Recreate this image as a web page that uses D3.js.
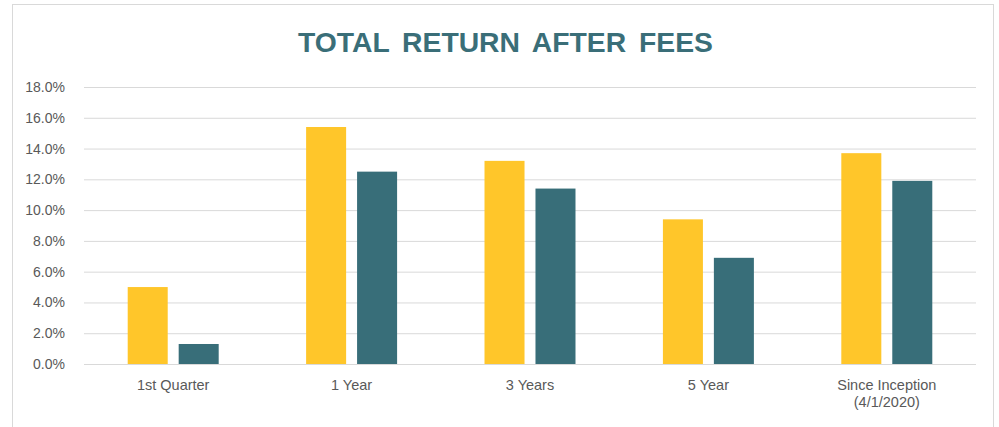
<!DOCTYPE html>
<html>
<head>
<meta charset="utf-8">
<script src="https://cdn.jsdelivr.net/npm/d3@7"></script>
<style>
  body { margin: 0; background: #fff; }
  svg { display: block; }
</style>
</head>
<body>
<div id="chart"></div>
<script>

// data
const categories = ["1st Quarter", "1 Year", "3 Years", "5 Year", "Since Inception\n(4/1/2020)"];
const seriesNames = ["Fund", "Benchmark"];
const fundValues = [0.050, 0.154, 0.132, 0.094, 0.137];
const benchValues = [0.013, 0.125, 0.114, 0.069, 0.119];
const yTicks = [0, 0.02, 0.04, 0.06, 0.08, 0.10, 0.12, 0.14, 0.16, 0.18];

var width = 999;
var height = 427;
var colors = ["#FFC62A", "#386E79"];

var svg = d3.select("#chart").append("svg")
    .attr("width", width)
    .attr("height", height);

// chart frame
svg.append("rect")
    .attr("x", 12.5)
    .attr("y", 4.5)
    .attr("width", 981)
    .attr("height", 440)
    .attr("fill", "#fff")
    .attr("stroke", "#d9d9d9");

svg.append("text")
    .attr("x", 505.5)
    .attr("y", 52)
    .attr("text-anchor", "middle")
    .attr("font-family", "'Liberation Sans Narrow', 'Arial Narrow', 'Liberation Sans', sans-serif")
    .attr("font-weight", "bold")
    .attr("font-size", 28)
    .attr("word-spacing", 5)
    .attr("textLength", 415)
    .attr("lengthAdjust", "spacingAndGlyphs")
    .attr("fill", "#3A6E78")
    .text("TOTAL RETURN AFTER FEES");

var margin = { left: 84, right: 23, top: 87, bottom: 63 };

var x = d3.scaleBand()
    .domain(categories)
    .range([margin.left, width - margin.right])
    .paddingInner(0)
    .paddingOuter(0);

var y = d3.scaleLinear()
    .domain([0, 0.18])
    .range([height - margin.bottom, margin.top]);

var xSub = d3.scaleBand()
    .domain(seriesNames)
    .range([x.bandwidth() * 0.245, x.bandwidth() * 0.755])
    .paddingInner(0.215);

// gridlines
var grid = svg.append("g")
    .attr("transform", "translate(" + margin.left + ",0)")
    .call(d3.axisLeft(y).tickValues(yTicks).tickSize(-(width - margin.left - margin.right)).tickFormat(""));
grid.select(".domain").remove();
grid.selectAll(".tick line").attr("stroke", "#d9d9d9");

// y labels
var yAxis = svg.append("g")
    .attr("transform", "translate(" + (margin.left - 16) + ",0)")
    .call(d3.axisLeft(y).tickValues(yTicks).tickSize(0).tickFormat(d3.format(".1%")));
yAxis.select(".domain").remove();
yAxis.selectAll("text")
    .attr("font-family", "'Liberation Sans', Arial, sans-serif")
    .attr("font-size", 14)
    .attr("fill", "#595959");

// bars
var rows = categories.map((c, i) => ({ cat: c, vals: [fundValues[i], benchValues[i]] }));

var groups = svg.append("g").selectAll("g")
    .data(rows)
    .enter()
    .append("g")
    .attr("transform", d => "translate(" + x(d.cat) + ",0)");

groups.selectAll("rect")
    .data(d => d.vals.map((v, j) => ({ name: seriesNames[j], v: v, j: j })))
    .enter()
    .append("rect")
    .attr("x", d => xSub(d.name))
    .attr("width", xSub.bandwidth())
    .attr("y", d => y(d.v))
    .attr("height", d => y(0) - y(d.v))
    .attr("fill", d => colors[d.j]);

// x axis line on top
svg.append("line")
    .attr("x1", margin.left)
    .attr("x2", width - margin.right)
    .attr("y1", y(0) + 0.5)
    .attr("y2", y(0) + 0.5)
    .attr("stroke", "#d9d9d9");

// category labels
var xl = svg.append("g").selectAll("text")
    .data(categories)
    .enter()
    .append("text")
    .attr("x", d => x(d) + x.bandwidth() / 2)
    .attr("y", 390)
    .attr("text-anchor", "middle")
    .attr("font-family", "'Liberation Sans', Arial, sans-serif")
    .attr("font-size", 14.5)
    .attr("fill", "#595959");

xl.selectAll("tspan")
    .data(d => d.split("\n"))
    .enter()
    .append("tspan")
    .attr("x", function () { return d3.select(this.parentNode).attr("x"); })
    .attr("dy", (d, i) => i === 0 ? 0 : 17)
    .text(d => d);

</script>
</body>
</html>
